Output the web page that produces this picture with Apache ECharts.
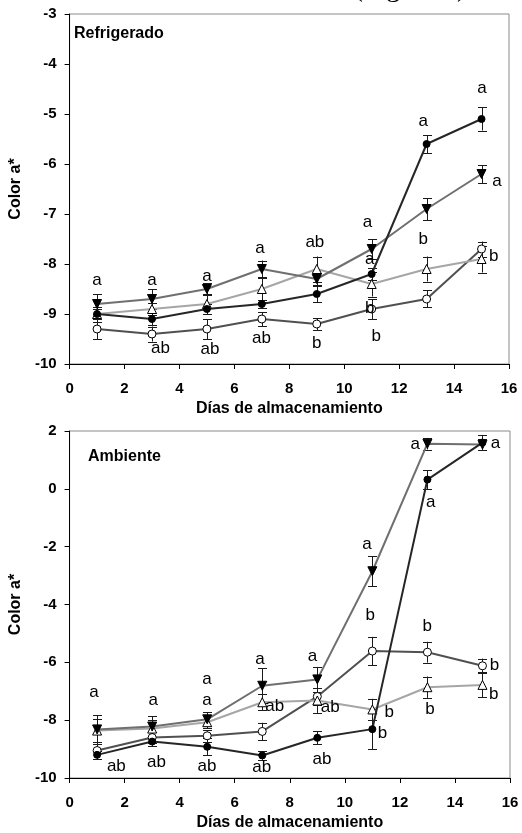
<!DOCTYPE html>
<html><head><meta charset="utf-8">
<script src="https://cdn.jsdelivr.net/npm/echarts@6/dist/echarts.min.js"></script>
<style>html,body{margin:0;padding:0;background:#fff}#c{width:522px;height:833px}</style>
</head><body><div id="c"></div><script>
// ---- data ----
const days = [1, 3, 5, 7, 9, 11, 13, 15];

// Refrigerado panel
const refFilledCircle = [-9.0, -9.1, -8.9, -8.8, -8.6, -8.2, -5.6, -5.1];
const refFilledCircleErr = [0.1, 0.12, 0.1, 0.08, 0.16, 0.12, 0.18, 0.23];
const refInvTriangle = [-8.8, -8.7, -8.5, -8.1, -8.3, -7.7, -6.9, -6.2];
const refInvTriangleErr = [0.2, 0.2, 0.12, 0.17, 0.12, 0.2, 0.22, 0.18];
const refOpenTriangle = [-9.0, -8.9, -8.8, -8.5, -8.1, -8.4, -8.1, -7.9];
const refOpenTriangleErr = [0.15, 0.12, 0.2, 0.25, 0.25, 0.25, 0.25, 0.27];
const refOpenCircle = [-9.3, -9.4, -9.3, -9.1, -9.2, -8.9, -8.7, -7.7];
const refOpenCircleErr = [0.2, 0.15, 0.2, 0.14, 0.12, 0.2, 0.17, 0.15];

// Ambiente panel
const ambFilledCircle = [-9.2, -8.74, -8.92, -9.22, -8.61, -8.31, 0.32, 1.6];
const ambFilledCircleErr = [0.15, 0.15, 0.3, 0.15, 0.23, 0.7, 0.33, 0.26];
const ambInvTriangle = [-8.32, -8.22, -7.97, -6.81, -6.59, -2.85, 1.56, 1.53];
const ambInvTriangleErr = [0.5, 0.35, 0.24, 0.6, 0.43, 0.51, 0.2, 0.2];
const ambOpenTriangle = [-8.36, -8.29, -8.07, -7.38, -7.32, -7.63, -6.86, -6.78];
const ambOpenTriangleErr = [0.4, 0.3, 0.2, 0.27, 0.43, 0.37, 0.37, 0.43];
const ambOpenCircle = [-9.05, -8.6, -8.54, -8.39, -7.18, -5.61, -5.65, -6.12];
const ambOpenCircleErr = [0.3, 0.2, 0.2, 0.3, 0.3, 0.49, 0.36, 0.25];

// significance letters [day, value, text]
const refLetters = [
  [1, -8.32, 'a'], [3, -8.32, 'a'], [5, -8.25, 'a'], [6.93, -7.69, 'a'],
  [8.93, -7.57, 'ab'], [10.85, -7.17, 'a'], [10.93, -7.91, 'a'], [10.93, -8.89, 'b'],
  [11.17, -9.45, 'b'], [12.88, -5.15, 'a'], [12.88, -7.51, 'b'], [15.02, -4.49, 'a'],
  [15.56, -6.34, 'a'], [15.44, -7.84, 'b'], [3.31, -9.69, 'ab'], [5.11, -9.71, 'ab'],
  [6.99, -9.49, 'ab'], [9.0, -9.59, 'b']
];
const ambLetters = [
  [0.89, -7.03, 'a'], [1.7, -9.59, 'ab'], [3.04, -7.32, 'a'], [3.16, -9.45, 'ab'],
  [4.99, -6.6, 'a'], [4.99, -7.33, 'a'], [4.99, -9.59, 'ab'], [6.92, -5.88, 'a'],
  [7.45, -7.53, 'ab'], [6.98, -9.63, 'ab'], [8.82, -5.79, 'a'], [9.47, -7.57, 'ab'],
  [9.17, -9.37, 'ab'], [10.8, -1.92, 'a'], [10.92, -4.38, 'b'], [11.61, -7.72, 'b'],
  [11.37, -8.47, 'b'], [12.56, 1.54, 'a'], [13.12, -0.46, 'a'], [12.99, -4.76, 'b'],
  [13.09, -7.64, 'b'], [15.47, 1.56, 'a'], [15.44, -6.11, 'b'], [15.41, -7.11, 'b']
];

const xTickValues = [0, 2, 4, 6, 8, 10, 12, 14, 16];
const refYTicks = [-10, -9, -8, -7, -6, -5, -4, -3];
const ambYTicks = [-10, -8, -6, -4, -2, 0, 2];

const panelTitles = ['Refrigerado', 'Ambiente'];
const xTitle = 'Días de almacenamiento';
const yTitle = 'Color a*';
const pageCaption = '(Figura 3)';

// ---- chart ----
const FONT = 'Liberation Sans, Arial, sans-serif';
const chart = echarts.init(document.getElementById('c'), null, {renderer: 'canvas'});

function pairs(ys) { return days.map((d, i) => [d, ys[i]]); }
function errData(ys, es) { return days.map((d, i) => [d, ys[i] - es[i], ys[i] + es[i]]); }

function errRender(params, api) {
  const x = api.value(0), lo = api.value(1), hi = api.value(2);
  const p1 = api.coord([x, lo]), p2 = api.coord([x, hi]);
  const w = 4.5;
  const cx = Math.round(p1[0]) + 0.5;
  const st = {stroke: '#1a1a1a', lineWidth: 1};
  return {type: 'group', children: [
    {type: 'line', shape: {x1: cx, y1: p1[1], x2: cx, y2: p2[1]}, style: st},
    {type: 'line', shape: {x1: cx - w, y1: Math.round(p1[1]) + 0.5, x2: cx + w, y2: Math.round(p1[1]) + 0.5}, style: st},
    {type: 'line', shape: {x1: cx - w, y1: Math.round(p2[1]) + 0.5, x2: cx + w, y2: Math.round(p2[1]) + 0.5}, style: st}
  ]};
}

function makeLetterRender(letters) {
  return function (params, api) {
    const p = api.coord([api.value(0), api.value(1)]);
    return {type: 'text', x: p[0], y: p[1], style: {
      text: letters[params.dataIndex][2],
      font: '17px ' + FONT, fill: '#000', align: 'center', verticalAlign: 'middle'}};
  };
}

const styles = [
  {key: 'FilledCircle', line: '#262626', symbol: 'circle', size: 7, rot: 0, fill: '#000', border: '#000'},
  {key: 'InvTriangle', line: '#6f6f6f', symbol: 'triangle', size: 9, rot: 180, fill: '#000', border: '#000'},
  {key: 'OpenTriangle', line: '#a6a6a6', symbol: 'triangle', size: 9, rot: 0, fill: '#fff', border: '#000'},
  {key: 'OpenCircle', line: '#505050', symbol: 'circle', size: 8, rot: 0, fill: '#fff', border: '#000'}
];

const panelData = [
  {FilledCircle: [refFilledCircle, refFilledCircleErr], InvTriangle: [refInvTriangle, refInvTriangleErr],
   OpenTriangle: [refOpenTriangle, refOpenTriangleErr], OpenCircle: [refOpenCircle, refOpenCircleErr], letters: refLetters},
  {FilledCircle: [ambFilledCircle, ambFilledCircleErr], InvTriangle: [ambInvTriangle, ambInvTriangleErr],
   OpenTriangle: [ambOpenTriangle, ambOpenTriangleErr], OpenCircle: [ambOpenCircle, ambOpenCircleErr], letters: ambLetters}
];

const series = [];
panelData.forEach((pd, gi) => {
  styles.forEach(s => {
    const [vals, errs] = pd[s.key];
    series.push({
      type: 'custom', xAxisIndex: gi, yAxisIndex: gi, renderItem: errRender,
      data: errData(vals, errs), encode: {x: 0, y: [1, 2]}, z: 2, silent: true, clip: false
    });
  });
  [3, 2, 1, 0].forEach(k => {
    const s = styles[k];
    const [vals] = pd[s.key];
    series.push({
      type: 'line', xAxisIndex: gi, yAxisIndex: gi, data: pairs(vals),
      symbol: s.symbol, symbolSize: s.size, symbolRotate: s.rot, showAllSymbol: true,
      lineStyle: {color: s.line, width: 2},
      itemStyle: {color: s.fill, borderColor: s.border, borderWidth: 1},
      z: 3 + (3 - k), animation: false, clip: false
    });
  });
  series.push({
    type: 'custom', xAxisIndex: gi, yAxisIndex: gi, renderItem: makeLetterRender(pd.letters),
    data: pd.letters.map(l => [l[0], l[1]]), encode: {x: 0, y: 1}, z: 10, silent: true, clip: false
  });
});

function xAxisCfg(gi) {
  return {
    gridIndex: gi, type: 'value', min: 0, max: 16, interval: 2,
    axisLine: {show: true, onZero: false, lineStyle: {color: '#000', width: 1}},
    axisTick: {show: true, length: 5, lineStyle: {color: '#000'}},
    splitLine: {show: false},
    axisLabel: {fontSize: 15, fontWeight: 'bold', color: '#000', fontFamily: FONT, margin: 17,
      customValues: xTickValues},
    name: xTitle, nameLocation: 'middle', nameGap: 37,
    nameTextStyle: {fontSize: 16, fontWeight: 'bold', color: '#000', fontFamily: FONT}
  };
}
function yAxisCfg(gi, min, max, interval, gap) {
  return {
    gridIndex: gi, type: 'value', min: min, max: max, interval: interval,
    axisLine: {show: true, onZero: false, lineStyle: {color: '#000', width: 1}},
    axisTick: {show: true, length: 5, lineStyle: {color: '#000'}},
    splitLine: {show: false},
    axisLabel: {fontSize: 15, fontWeight: 'bold', color: '#000', fontFamily: FONT, margin: 13},
    name: yTitle, nameLocation: 'middle', nameGap: gap,
    nameTextStyle: {fontSize: 16, fontWeight: 'bold', color: '#000', fontFamily: FONT}
  };
}

chart.setOption({
  animation: false,
  backgroundColor: '#fff',
  grid: [
    {left: 63, top: 14, width: 446, height: 350, show: true, borderColor: '#8a8a8a', borderWidth: 1, backgroundColor: 'transparent'},
    {left: 61, top: 431, width: 449, height: 347, show: true, borderColor: '#8a8a8a', borderWidth: 1, backgroundColor: 'transparent'}
  ],
  xAxis: [xAxisCfg(0), xAxisCfg(1)],
  yAxis: [yAxisCfg(0, refYTicks[0], refYTicks[refYTicks.length - 1], 1, 35),
          yAxisCfg(1, ambYTicks[0], ambYTicks[ambYTicks.length - 1], 2, 33)],
  graphic: [
    {type: 'text', left: 74, top: 25.5, style: {text: panelTitles[0], font: 'bold 16px ' + FONT, fill: '#000'}},
    {type: 'text', left: 88, top: 448.5, style: {text: panelTitles[1], font: 'bold 16px ' + FONT, fill: '#000'}},
    {type: 'text', x: 410, y: 3, style: {text: pageCaption, font: '28px Liberation Serif, Times New Roman, serif',
      fill: '#000', align: 'center', verticalAlign: 'bottom'}}
  ],
  series: series
});
</script></body></html>
